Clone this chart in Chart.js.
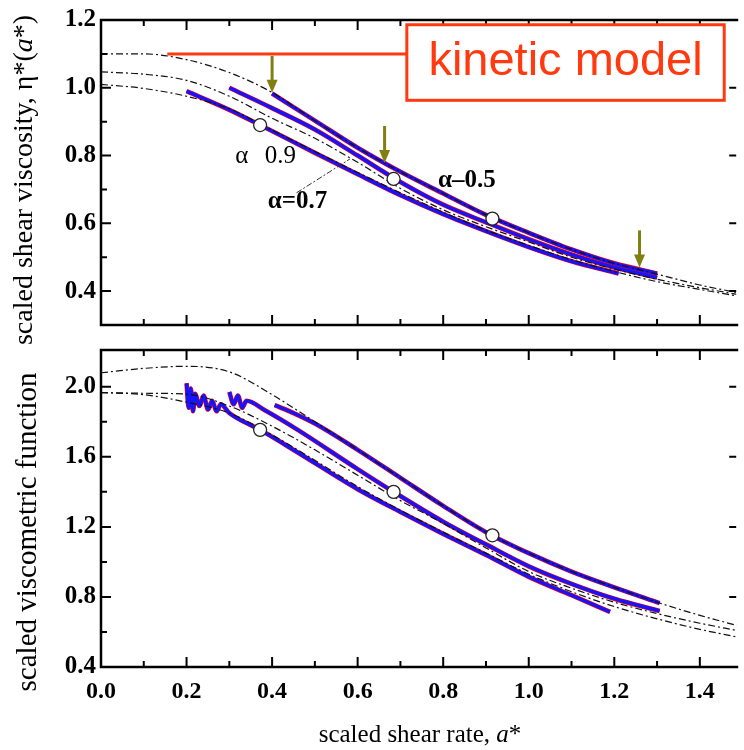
<!DOCTYPE html>
<html>
<head>
<meta charset="utf-8">
<script src="https://cdn.jsdelivr.net/npm/chart.js@4.4.1/dist/chart.umd.min.js"></script>
<style>
  body { margin: 0; background: #fff; }
  #wrap { position: relative; width: 744px; height: 750px; overflow: hidden; }
  canvas { position: absolute; left: 0; }
</style>
</head>
<body>
<div id="wrap">
  <canvas id="viscChart" width="744" height="345" style="top:0;width:744px;height:345px"></canvas>
  <canvas id="funcChart" width="744" height="420" style="top:330px;width:744px;height:420px"></canvas>
</div>
<script>
// shared x axis
const X_MAX = 1.485;
const X_TICKS = [0, 0.2, 0.4, 0.6, 0.8, 1.0, 1.2, 1.4];
const X_MINOR = [0.1, 0.3, 0.5, 0.7, 0.9, 1.1, 1.3];

// kinetic model curves are sampled on this grid
const MODEL_X = [0, 0.1, 0.2, 0.3, 0.4, 0.5, 0.6, 0.7, 0.8, 0.9, 1.0, 1.1, 1.2, 1.3, 1.4, 1.49];

// upper panel: scaled shear viscosity
const VISC_TICKS = [0.4, 0.6, 0.8, 1.0, 1.2];
const VISC_MINOR = [0.5, 0.7, 0.9, 1.1];
const VISC_MODEL_05 = [1.100, 1.100, 1.083, 1.045, 0.986, 0.903, 0.823, 0.752, 0.688, 0.625, 0.572, 0.523, 0.482, 0.450, 0.418, 0.395];
const VISC_MODEL_07 = [1.047, 1.040, 1.022, 0.975, 0.910, 0.851, 0.780, 0.703, 0.640, 0.590, 0.545, 0.500, 0.465, 0.435, 0.410, 0.390];
const VISC_MODEL_09 = [1.010, 0.998, 0.975, 0.938, 0.875, 0.812, 0.750, 0.690, 0.633, 0.580, 0.535, 0.493, 0.458, 0.428, 0.405, 0.385];

const VISC_05_X = [0.40, 0.5, 0.6, 0.7, 0.8, 0.9, 1.0, 1.1, 1.2, 1.3];
const VISC_05_Y = [0.983, 0.903, 0.823, 0.752, 0.688, 0.625, 0.572, 0.523, 0.482, 0.452];
const VISC_07_X = [0.30, 0.4, 0.5, 0.6, 0.7, 0.8, 0.9, 1.0, 1.1, 1.2, 1.3];
const VISC_07_Y = [1.000, 0.940, 0.877, 0.800, 0.722, 0.655, 0.603, 0.553, 0.508, 0.470, 0.440];
const VISC_09_X = [0.20, 0.3, 0.372, 0.5, 0.6, 0.7, 0.8, 0.9, 1.0, 1.1, 1.21];
const VISC_09_Y = [0.990, 0.935, 0.890, 0.808, 0.745, 0.683, 0.627, 0.577, 0.530, 0.488, 0.452];

// open circles and arrows
const CIRCLE_X = [0.372, 0.684, 0.915];
const VISC_CIRCLE_Y = [0.890, 0.731, 0.614];
const FUNC_CIRCLE_Y = [1.754, 1.400, 1.152];
const ARROW_X = [0.40, 0.663, 1.259];
const ARROW_TIP_Y = [0.985, 0.778, 0.470];

// lower panel: scaled viscometric function
const FUNC_TICKS = [0.4, 0.8, 1.2, 1.6, 2.0];
const FUNC_MINOR = [0.6, 1.0, 1.4, 1.8];
const FUNC_MODEL_05 = [2.080, 2.105, 2.117, 2.085, 1.955, 1.800, 1.640, 1.480, 1.320, 1.170, 1.050, 0.945, 0.855, 0.770, 0.695, 0.635];
const FUNC_MODEL_07 = [1.967, 1.963, 1.958, 1.890, 1.775, 1.640, 1.495, 1.350, 1.220, 1.080, 0.945, 0.850, 0.770, 0.705, 0.650, 0.607];
const FUNC_MODEL_09 = [1.967, 1.955, 1.912, 1.850, 1.725, 1.580, 1.430, 1.295, 1.170, 1.050, 0.930, 0.830, 0.745, 0.675, 0.615, 0.570];

const FUNC_05_X = [0.406, 0.45, 0.5, 0.6, 0.7, 0.8, 0.9, 1.0, 1.1, 1.2, 1.306];
const FUNC_05_Y = [1.895, 1.850, 1.790, 1.640, 1.480, 1.320, 1.170, 1.050, 0.945, 0.855, 0.765];
const FUNC_07_X = [0.30, 0.31, 0.32, 0.33, 0.34, 0.383, 0.46, 0.6, 0.684, 0.8, 0.9, 1.0, 1.1, 1.2, 1.306];
const FUNC_07_Y = [1.970, 1.900, 1.950, 1.880, 1.920, 1.866, 1.754, 1.530, 1.400, 1.230, 1.100, 0.975, 0.875, 0.790, 0.720];
const FUNC_09_X = [0.20, 0.205, 0.21, 0.215, 0.22, 0.23, 0.24, 0.25, 0.26, 0.27, 0.28, 0.30, 0.372, 0.46, 0.6, 0.7, 0.8, 0.9, 1.0, 1.1, 1.19];
const FUNC_09_Y = [2.020, 1.880, 1.990, 1.860, 1.960, 1.890, 1.950, 1.870, 1.920, 1.860, 1.900, 1.850, 1.754, 1.625, 1.415, 1.285, 1.160, 1.040, 0.915, 0.810, 0.715];

const SERIF = "'Liberation Serif', 'Times New Roman', serif";
const SANS = "'Liberation Sans', Arial, sans-serif";
const BLUE = 'rgb(20, 20, 255)';
const RED = 'rgb(255, 0, 0)';
const OLIVE = 'rgb(128, 128, 16)';
const KINETIC = 'rgb(255, 58, 16)';

function pts(xs, ys) {
  return xs.map((x, i) => ({ x, y: ys[i] }));
}

function curve(xs, ys, color, width, dash, order) {
  return {
    data: pts(xs, ys), showLine: true, borderColor: color, borderWidth: width,
    borderDash: dash || [], borderJoinStyle: 'round', pointRadius: 0,
    cubicInterpolationMode: 'monotone', fill: false, order
  };
}

function model(ys) {
  return curve(MODEL_X, ys, '#111', 1.2, [7, 3, 2, 3], 1);
}

function measured(xs, ys) {
  return [curve(xs, ys, BLUE, 3.4, null, 2), curve(xs, ys, RED, 4.6, null, 3)];
}

function circles(ys) {
  return {
    data: pts(CIRCLE_X, ys), showLine: false, pointRadius: 6.5,
    pointBackgroundColor: '#fff', pointBorderColor: '#222', pointBorderWidth: 1.3, order: 0
  };
}

// text made of runs with different fonts, centred on (x, y)
function drawRich(ctx, parts, x, y, rot) {
  ctx.save();
  ctx.translate(x, y);
  ctx.rotate(rot);
  ctx.textBaseline = 'middle';
  ctx.textAlign = 'left';
  let total = 0;
  parts.forEach(p => { ctx.font = p[1]; total += ctx.measureText(p[0]).width; });
  let cx = -total / 2;
  parts.forEach(p => {
    ctx.font = p[1];
    ctx.fillText(p[0], cx, 0);
    cx += ctx.measureText(p[0]).width;
  });
  ctx.restore();
}

// frame and inward tick marks
const frame = {
  id: 'frame',
  afterDraw(chart, args, opts) {
    const { ctx, chartArea: a, scales: { x, y } } = chart;
    ctx.save();
    ctx.strokeStyle = '#000';
    ctx.lineWidth = 2.5;
    ctx.beginPath();
    ctx.moveTo(a.right + 2, a.top);
    ctx.lineTo(a.left, a.top);
    ctx.lineTo(a.left, a.bottom);
    ctx.lineTo(a.right + 2, a.bottom);
    ctx.stroke();
    ctx.lineWidth = 2;
    ctx.beginPath();
    const xt = (v, len) => {
      const px = x.getPixelForValue(v);
      ctx.moveTo(px, a.top); ctx.lineTo(px, a.top + len);
      ctx.moveTo(px, a.bottom); ctx.lineTo(px, a.bottom - len);
    };
    X_TICKS.forEach(v => xt(v, 10));
    X_MINOR.forEach(v => xt(v, 6));
    opts.major.forEach(v => {
      const py = y.getPixelForValue(v);
      ctx.moveTo(a.left, py); ctx.lineTo(a.left + 10, py);
      ctx.moveTo(a.right, py); ctx.lineTo(a.right - 7, py);
    });
    opts.minor.forEach(v => {
      const py = y.getPixelForValue(v);
      ctx.moveTo(a.left, py); ctx.lineTo(a.left + 6, py);
    });
    ctx.stroke();
    ctx.fillStyle = '#000';
    opts.titles.forEach(t => drawRich(ctx, t.parts, t.x, t.y, t.rot));
    ctx.restore();
  }
};

// arrows, alpha labels and the kinetic model call-out on the upper panel
const viscNotes = {
  id: 'viscNotes',
  afterDraw(chart) {
    const { ctx, scales: { x, y } } = chart;
    ctx.save();
    ctx.strokeStyle = OLIVE;
    ctx.fillStyle = OLIVE;
    ctx.lineWidth = 3;
    ARROW_X.forEach((v, i) => {
      const px = x.getPixelForValue(v);
      const tip = y.getPixelForValue(ARROW_TIP_Y[i]);
      ctx.beginPath();
      ctx.moveTo(px, tip - 37);
      ctx.lineTo(px, tip - 10);
      ctx.stroke();
      ctx.beginPath();
      ctx.moveTo(px - 5.5, tip - 13);
      ctx.lineTo(px + 5.5, tip - 13);
      ctx.lineTo(px, tip);
      ctx.closePath();
      ctx.fill();
    });

    ctx.fillStyle = '#000';
    ctx.textBaseline = 'alphabetic';
    ctx.textAlign = 'left';
    ctx.font = '25px ' + SERIF;
    ctx.fillText('α', x.getPixelForValue(0.314), y.getPixelForValue(0.779));
    ctx.fillText('0.9', x.getPixelForValue(0.383), y.getPixelForValue(0.779));
    ctx.font = 'bold 25px ' + SERIF;
    ctx.fillText('α=0.7', x.getPixelForValue(0.39), y.getPixelForValue(0.645));
    ctx.fillText('α–0.5', x.getPixelForValue(0.788), y.getPixelForValue(0.706));

    // leader line from the α=0.7 label
    ctx.strokeStyle = '#333';
    ctx.lineWidth = 1;
    ctx.setLineDash([6, 2, 2, 2]);
    ctx.beginPath();
    ctx.moveTo(x.getPixelForValue(0.457), y.getPixelForValue(0.69));
    ctx.lineTo(x.getPixelForValue(0.582), y.getPixelForValue(0.79));
    ctx.stroke();
    ctx.setLineDash([]);

    // kinetic model call-out
    const bx0 = x.getPixelForValue(0.715), bx1 = x.getPixelForValue(1.457);
    const by0 = y.getPixelForValue(1.186), by1 = y.getPixelForValue(0.963);
    ctx.strokeStyle = KINETIC;
    ctx.lineWidth = 3;
    ctx.beginPath();
    ctx.moveTo(x.getPixelForValue(0.155), y.getPixelForValue(1.1));
    ctx.lineTo(bx0, y.getPixelForValue(1.1));
    ctx.stroke();
    ctx.fillStyle = '#fff';
    ctx.fillRect(bx0, by0, bx1 - bx0, by1 - by0);
    ctx.strokeRect(bx0, by0, bx1 - bx0, by1 - by0);
    ctx.fillStyle = KINETIC;
    ctx.font = '47px ' + SANS;
    ctx.textAlign = 'center';
    ctx.textBaseline = 'middle';
    ctx.fillText('kinetic model', (bx0 + bx1) / 2, (by0 + by1) / 2);
    ctx.restore();
  }
};

function scaleX(show) {
  return {
    type: 'linear', min: 0, max: X_MAX, display: show,
    grid: { display: false, drawTicks: false }, border: { display: false },
    afterBuildTicks: s => { s.ticks = X_TICKS.map(v => ({ value: v })); },
    afterFit: s => { s.height = show ? 83 : 0; },
    ticks: {
      font: { family: SERIF, size: 24, weight: 'bold' }, color: '#000', padding: 10,
      autoSkip: false, maxRotation: 0, callback: v => v.toFixed(1)
    }
  };
}

function scaleY(min, max, ticks) {
  return {
    type: 'linear', min, max,
    grid: { display: false, drawTicks: false }, border: { display: false },
    afterBuildTicks: s => { s.ticks = ticks.map(v => ({ value: v })); },
    afterFit: s => { s.width = 101; },
    ticks: {
      font: { family: SERIF, size: 25, weight: 'bold' }, color: '#000', padding: 5,
      callback: v => v.toFixed(1)
    }
  };
}

const viscChart = new Chart(document.getElementById('viscChart'), {
  type: 'scatter',
  data: {
    datasets: [
      circles(VISC_CIRCLE_Y),
      model(VISC_MODEL_05), model(VISC_MODEL_07), model(VISC_MODEL_09),
      ...measured(VISC_05_X, VISC_05_Y),
      ...measured(VISC_07_X, VISC_07_Y),
      ...measured(VISC_09_X, VISC_09_Y)
    ]
  },
  options: {
    responsive: false, animation: false,
    layout: { padding: { top: 20, bottom: 2, left: 0, right: 0 } },
    plugins: {
      legend: { display: false }, tooltip: { enabled: false },
      frame: {
        major: VISC_TICKS, minor: VISC_MINOR,
        titles: [{
          x: 25, y: 180, rot: -Math.PI / 2,
          parts: [['scaled shear viscosity, η*(', '28px ' + SERIF], ['a', 'italic 28px ' + SERIF], ['*)', '28px ' + SERIF]]
        }]
      }
    },
    scales: { x: scaleX(false), y: scaleY(0.3, 1.2, VISC_TICKS) }
  },
  plugins: [frame, viscNotes]
});

const funcChart = new Chart(document.getElementById('funcChart'), {
  type: 'scatter',
  data: {
    datasets: [
      circles(FUNC_CIRCLE_Y),
      model(FUNC_MODEL_05), model(FUNC_MODEL_07), model(FUNC_MODEL_09),
      ...measured(FUNC_05_X, FUNC_05_Y),
      ...measured(FUNC_07_X, FUNC_07_Y),
      ...measured(FUNC_09_X, FUNC_09_Y)
    ]
  },
  options: {
    responsive: false, animation: false,
    layout: { padding: { top: 13, bottom: 0, left: 0, right: 0 } },
    plugins: {
      legend: { display: false }, tooltip: { enabled: false },
      frame: {
        major: FUNC_TICKS, minor: FUNC_MINOR,
        titles: [
          { x: 28, y: 202, rot: -Math.PI / 2, parts: [['scaled viscometric function', '29px ' + SERIF]] },
          { x: 420, y: 405, rot: 0, parts: [['scaled shear rate, ', '25px ' + SERIF], ['a', 'italic 25px ' + SERIF], ['*', '25px ' + SERIF]] }
        ]
      }
    },
    scales: { x: scaleX(true), y: scaleY(0.4, 2.21, FUNC_TICKS) }
  },
  plugins: [frame]
});
</script>
</body>
</html>
